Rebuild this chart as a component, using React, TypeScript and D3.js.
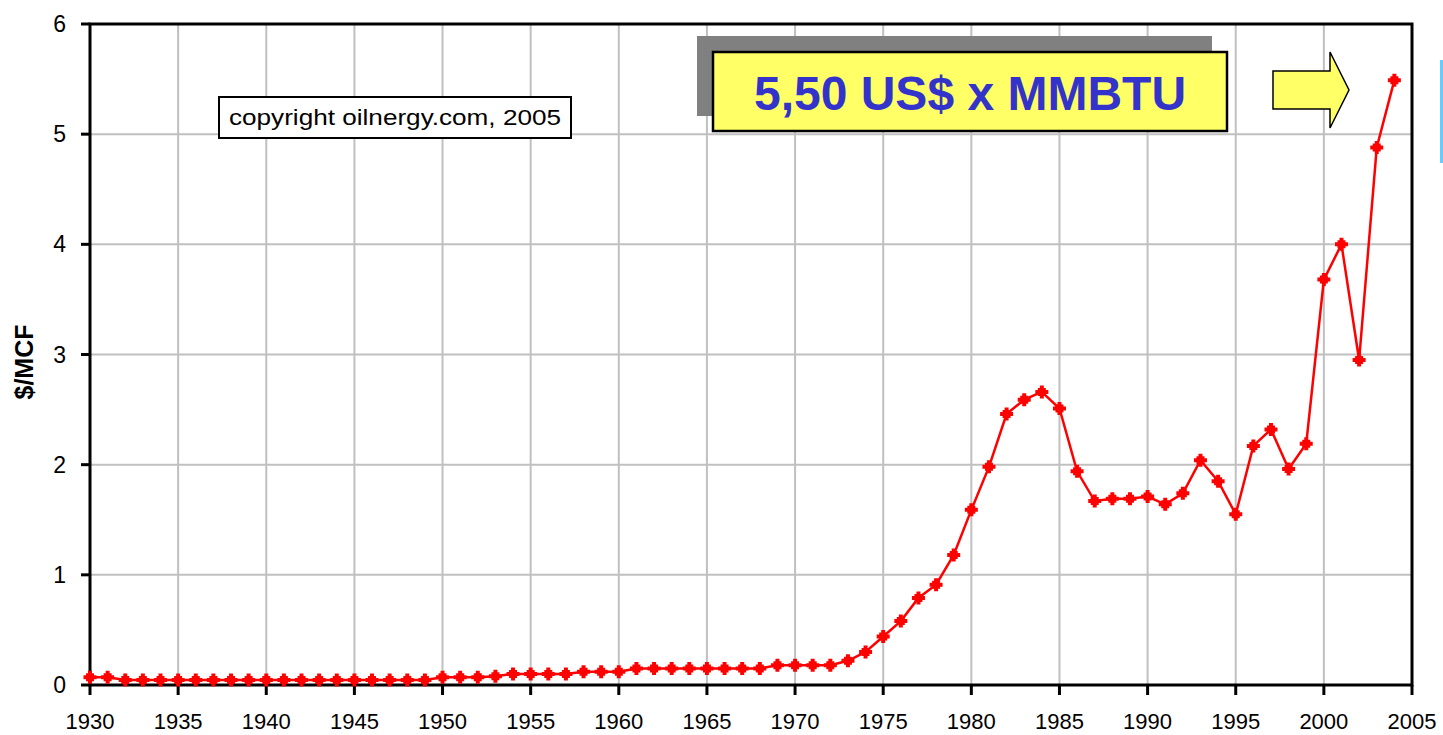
import React from "react";
import * as d3 from "d3";

const years: number[] = d3.range(1930, 2005);
const prices: number[] = [
  0.07, 0.07, 0.045, 0.045, 0.045, 0.045, 0.045, 0.045, 0.045, 0.045,
  0.045, 0.045, 0.045, 0.045, 0.045, 0.045, 0.045, 0.045, 0.045, 0.045,
  0.07, 0.07, 0.07, 0.08, 0.10, 0.10, 0.10, 0.10, 0.12, 0.12,
  0.12, 0.15, 0.15, 0.15, 0.15, 0.15, 0.15, 0.15, 0.15, 0.18,
  0.18, 0.18, 0.18, 0.22, 0.30, 0.44, 0.58, 0.79, 0.91, 1.18,
  1.59, 1.98, 2.46, 2.59, 2.66, 2.51, 1.94, 1.67, 1.69, 1.69,
  1.71, 1.64, 1.74, 2.04, 1.85, 1.55, 2.17, 2.32, 1.96, 2.19,
  3.68, 4.0, 2.95, 4.88, 5.49,
];
const xTicks: number[] = d3.range(1930, 2006, 5);
const yTicks: number[] = [0, 1, 2, 3, 4, 5, 6];
const yAxisLabel = "$/MCF";
const copyrightText = "copyright oilnergy.com, 2005";
const calloutText = "5,50 US$ x MMBTU";

const W = 1443;
const H = 735;
const left = 90;
const right = 1412;
const top = 24;
const bottom = 685;

export default function App() {
  const x = d3.scaleLinear().domain([1930, 2005]).range([left, right]);
  const y = d3.scaleLinear().domain([0, 6]).range([bottom, top]);
  const data = years.map((yr, i) => ({ yr, v: prices[i] }));
  const line = d3
    .line<{ yr: number; v: number }>()
    .x((d) => x(d.yr))
    .y((d) => y(d.v));

  const marker =
    "M-6.5,-2H-2V-6.5H2V-2H6.5V2H2V6.5H-2V2H-6.5Z M-4,-4H4V4H-4Z";

  const font = "'Liberation Sans', Arial, sans-serif";

  return (
    <svg
      width={W}
      height={H}
      style={{ position: "absolute", left: 0, top: 0, background: "#fff" }}
      fontFamily={font}
    >
      <rect x={0} y={0} width={W} height={H} fill="#fff" />
      {/* grid */}
      {xTicks.map((t) => (
        <line key={"gx" + t} x1={x(t)} x2={x(t)} y1={top} y2={bottom} stroke="#c0c0c0" strokeWidth={2} />
      ))}
      {yTicks.map((t) => (
        <line key={"gy" + t} x1={left} x2={right} y1={y(t)} y2={y(t)} stroke="#c0c0c0" strokeWidth={2} />
      ))}
      {/* frame */}
      <rect x={left} y={top} width={right - left} height={bottom - top} fill="none" stroke="#000" strokeWidth={3} />
      {/* ticks */}
      {xTicks.map((t) => (
        <line key={"tx" + t} x1={x(t)} x2={x(t)} y1={bottom} y2={bottom + 10} stroke="#000" strokeWidth={3} />
      ))}
      {yTicks.map((t) => (
        <line key={"ty" + t} x1={left - 9} x2={left} y1={y(t)} y2={y(t)} stroke="#000" strokeWidth={3} />
      ))}
      {/* tick labels */}
      {xTicks.map((t) => (
        <text key={"lx" + t} x={x(t)} y={729} textAnchor="middle" fontSize={22} fill="#000">
          {t}
        </text>
      ))}
      {yTicks.map((t) => (
        <text key={"ly" + t} x={66} y={y(t) + 8} textAnchor="end" fontSize={23} fill="#000">
          {t}
        </text>
      ))}
      <text
        transform="translate(33,362) rotate(-90)"
        textAnchor="middle"
        fontSize={25}
        fontWeight="bold"
        fill="#000"
      >
        {yAxisLabel}
      </text>

      {/* copyright box */}
      <rect x={219} y={97} width={352} height={41} fill="#fff" stroke="#000" strokeWidth={2} />
      <text x={229} y={125} fontSize={22} textLength={332} lengthAdjust="spacingAndGlyphs" fill="#000">
        {copyrightText}
      </text>

      {/* callout */}
      <rect x={697} y={36} width={515} height={80} fill="#808080" />
      <rect x={713} y={52} width={514} height={79} fill="#ffff66" stroke="#000" strokeWidth={2.5} />
      <text x={970} y={110} textAnchor="middle" fontSize={48} fontWeight="bold" fill="#3333cc">
        {calloutText}
      </text>

      {/* arrow */}
      <path
        d="M1273,71H1330V52L1349,90L1330,128V109H1273Z"
        fill="#ffff66"
        stroke="#000"
        strokeWidth={1.5}
        strokeLinejoin="miter"
      />

      {/* blue side line */}
      <rect x={1440} y={60} width={3} height={103} fill="#66ccff" />

      {/* data */}
      <path d={line(data) || ""} fill="none" stroke="#ff0000" strokeWidth={2.5} />
      {data.map((d) => (
        <path key={"m" + d.yr} d={marker} transform={`translate(${x(d.yr)},${y(d.v)})`} fill="#ff0000" />
      ))}
    </svg>
  );
}
